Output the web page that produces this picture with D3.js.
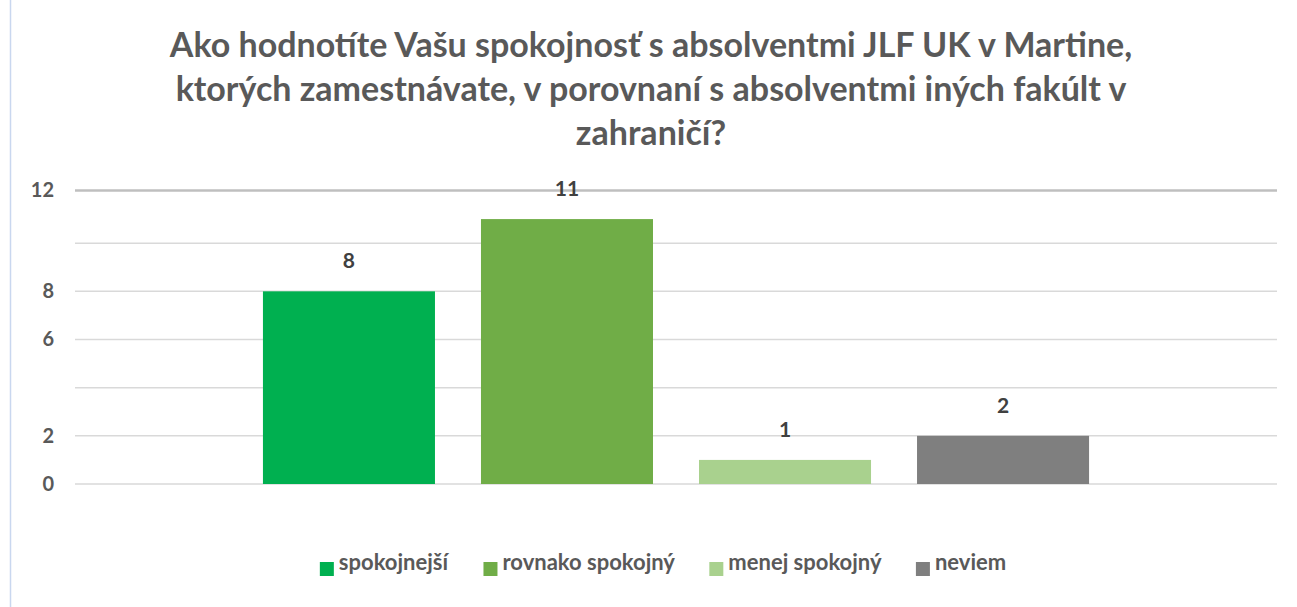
<!DOCTYPE html>
<html>
<head>
<meta charset="utf-8">
<script src="https://cdn.jsdelivr.net/npm/d3@7"></script>
<style>
  body { margin: 0; background: #fff; }
  svg { font-family: Lato, "Open Sans", sans-serif; }
</style>
</head>
<body>
<svg id="chart"></svg>
<script>
// data
const categories = ['spokojnejší', 'rovnako spokojný', 'menej spokojný', 'neviem'];
const values = [8, 11, 1, 2];
const colors = ['#00b050', '#70ad47', '#a9d18e', '#7f7f7f'];
const gridTicks = [0, 2, 4, 6, 8, 10];
const tickLabels = [0, 2, 6, 8, 12];   // 4 and 10 have no label in the original
const yMax = 12;
const titleLines = [
    'Ako hodnotíte Vašu spokojnosť s absolventmi JLF UK v Martine,',
    'ktorých zamestnávate, v porovnaní s absolventmi iných fakúlt v',
    'zahraničí?'
];

const width = 1297, height = 607;
const margin = { top: 195, bottom: 123, left: 75, right: 20 };
const topLineShift = 4.5; // the top frame line sits a bit above the 12 value

const svg = d3.select('#chart')
    .attr('width', width)
    .attr('height', height);

// faint left frame line
svg.append('line')
    .attr('x1', 10.5).attr('x2', 10.5)
    .attr('y1', 0).attr('y2', height)
    .attr('stroke', '#c9d7ef')
    .attr('stroke-width', 1.5);

// title
svg.append('g')
    .selectAll('text')
    .data(titleLines)
    .join('text')
    .attr('x', 651)
    .attr('y', (d, i) => 57 + i * 44)
    .attr('text-anchor', 'middle')
    .attr('font-size', 34)
    .attr('font-weight', 'bold')
    .attr('fill', '#595959')
    .text(d => d);

const x = d3.scaleBand()
    .domain(categories)
    .range([margin.left, width - margin.right])
    .paddingInner(0.211)
    .paddingOuter(0.862);

const y = d3.scaleLinear()
    .domain([0, yMax])
    .range([height - margin.bottom, margin.top]);

const yPos = d => d === yMax ? y(d) - topLineShift : y(d);

// gridlines
svg.append('g')
    .selectAll('line')
    .data(gridTicks)
    .join('line')
    .attr('x1', margin.left)
    .attr('x2', width - margin.right)
    .attr('y1', d => y(d))
    .attr('y2', d => y(d))
    .attr('stroke', '#d9d9d9')
    .attr('stroke-width', 1.5);

// top frame line
svg.append('line')
    .attr('x1', margin.left)
    .attr('x2', width - margin.right)
    .attr('y1', yPos(yMax))
    .attr('y2', yPos(yMax))
    .attr('stroke', '#bfbfbf')
    .attr('stroke-width', 2.5);

// y labels
svg.append('g')
    .selectAll('text')
    .data(tickLabels)
    .join('text')
    .attr('x', margin.left - 21)
    .attr('y', d => yPos(d))
    .attr('dy', '0.34em')
    .attr('text-anchor', 'end')
    .attr('font-size', 20)
    .attr('font-weight', 'bold')
    .attr('fill', '#595959')
    .text(d => d);

// bars
svg.append('g')
    .selectAll('rect')
    .data(values)
    .join('rect')
    .attr('x', (d, i) => x(categories[i]))
    .attr('y', d => y(d))
    .attr('width', x.bandwidth())
    .attr('height', d => y(0) - y(d))
    .attr('fill', (d, i) => colors[i]);

// value labels
svg.append('g')
    .selectAll('text')
    .data(values)
    .join('text')
    .attr('x', (d, i) => x(categories[i]) + x.bandwidth() / 2)
    .attr('y', d => y(d) - 23)
    .attr('text-anchor', 'middle')
    .attr('font-size', 21)
    .attr('font-weight', 'bold')
    .attr('fill', '#404040')
    .text(d => d);

// legend
const legend = svg.append('g');
const items = legend.selectAll('g')
    .data(categories)
    .join('g');

items.append('rect')
    .attr('width', 14)
    .attr('height', 14)
    .attr('y', -8)
    .attr('fill', (d, i) => colors[i]);

items.append('text')
    .attr('x', 19)
    .attr('font-size', 22)
    .attr('font-weight', 'bold')
    .attr('fill', '#595959')
    .text(d => d);

const gap = 34;
let pos = 0;
const offsets = [];
items.each(function() {
    offsets.push(pos);
    pos += this.getBBox().width + gap;
});
const total = pos - gap;
const startX = 663 - total / 2;
items.attr('transform', (d, i) => `translate(${startX + offsets[i]}, 570)`);
</script>
</body>
</html>
